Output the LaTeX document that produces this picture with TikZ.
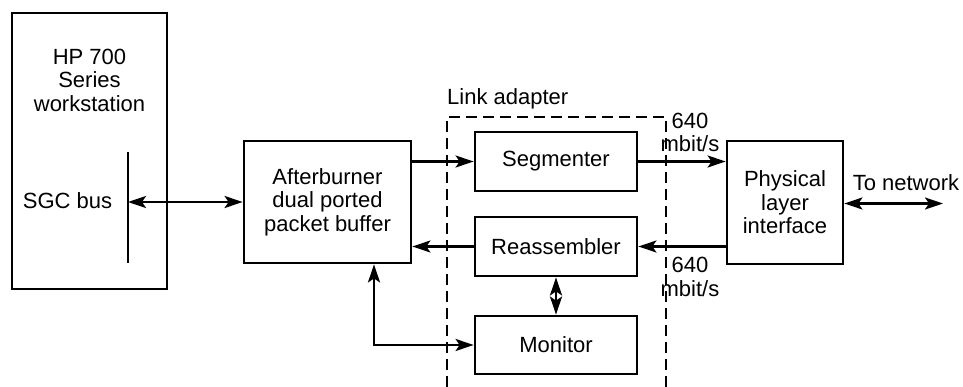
\documentclass[tikz,border=0pt]{standalone}
\usepackage{fontspec}
\setmainfont{Liberation Sans}
\usetikzlibrary{arrows.meta,calc}
\begin{document}
\begin{tikzpicture}[x=1pt,y=-1pt,
  font=\fontsize{22}{23.5}\selectfont,
  box/.style={draw,line width=2.8pt,inner sep=0pt,align=center},
  lbl/.style={inner sep=0pt,align=center},
  link/.style={line width=2.4pt},
  tip/.style={-{Stealth[length=18pt,width=12pt,inset=4pt]}},
  tips/.style={{Stealth[length=18pt,width=12pt,inset=4pt]}-{Stealth[length=18pt,width=12pt,inset=4pt]}},
  frame/.style={line width=2.4pt,dash pattern=on 11pt off 6pt}]
\useasboundingbox (0,0) rectangle (963,387);

% workstation with its bus
\node[box,minimum width=155pt,minimum height=276pt] (ws) at (89.5,151) {};
\node[lbl] (wstxt) at (89.5,80) {HP 700\\Series\\workstation};
\node[lbl] (sgc) at (67.5,201) {SGC bus};
\coordinate (bustop) at (128,152);
\coordinate (busbot) at (128,263);
\coordinate (bus) at (128,202);
\draw[line width=2.8pt] (bustop) -- (busbot);

% packet buffer
\node[box,minimum width=167pt,minimum height=122pt] (ab) at (327.5,202)
  {Afterburner\\dual ported\\packet buffer};

% link adapter
\draw[frame] (447,387) -- (447,117) -- (666,117) -- (666,387);
\node[lbl,anchor=west] (la) at (447,99) {Link adapter};
\node[box,minimum width=162pt,minimum height=59pt] (seg) at (556,161.5) {Segmenter};
\node[box,minimum width=162pt,minimum height=59pt] (re) at (556,246.5) {Reassembler};
\node[box,minimum width=162pt,minimum height=58pt] (mon) at (556,345) {Monitor};

% physical layer
\node[box,minimum width=116pt,minimum height=123pt] (pli) at (785,202.5)
  {Physical\\layer\\interface};
\node[lbl] (rate1) at (690,132.5) {640\\mbit/s};
\node[lbl] (rate2) at (690,277) {640\\mbit/s};
\node[lbl] (nettxt) at (906,183) {To network};
\coordinate (net) at (943,203.5);

% connectors
\draw[link,tips] (bus) -- (ab.west |- bus);
\draw[link,tip] (ab.east |- seg.west) -- (seg.west);
\draw[link,tip] (re.west) -- (ab.east |- re.west);
\draw[link,tips] ([xshift=46.5pt]ab.south) |- (mon.west);
\draw[link,tips] (re.south) -- (mon.north);
\draw[link,tip] (seg.east) -- (pli.west |- seg.east);
\draw[link,tip] (pli.west |- re.east) -- (re.east);
\draw[link,tips] (pli.east |- net) -- (net);
\end{tikzpicture}
\end{document}
